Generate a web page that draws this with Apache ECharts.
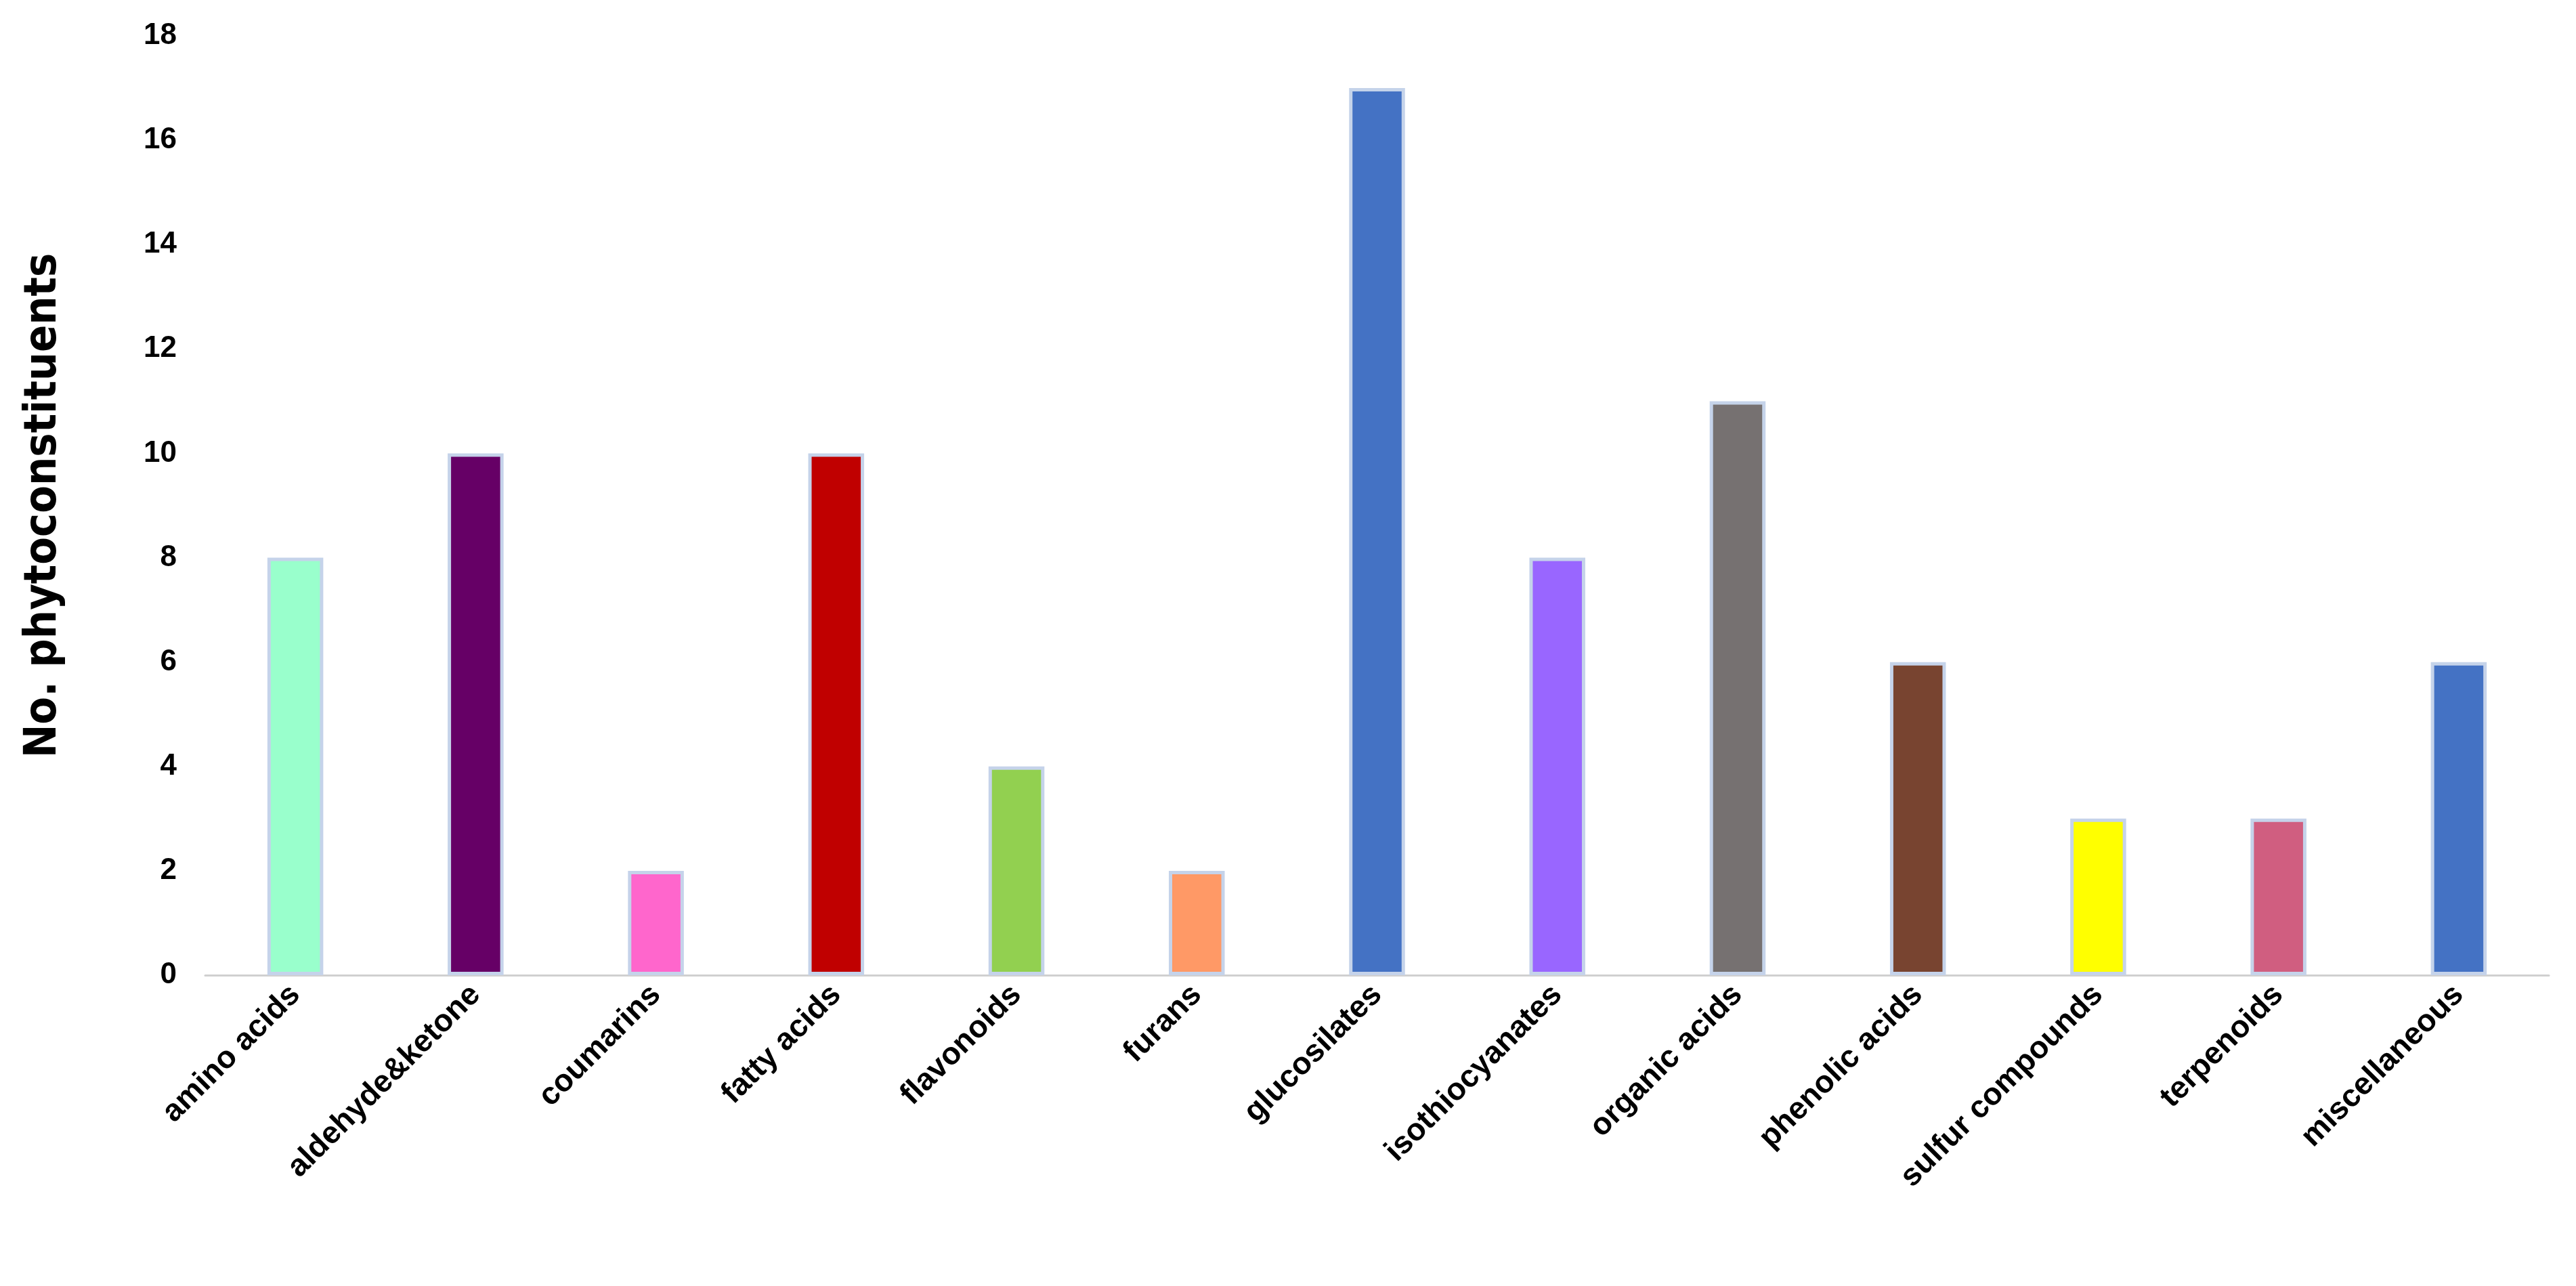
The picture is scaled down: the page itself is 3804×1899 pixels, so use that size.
<!DOCTYPE html>
<html>
<head>
<meta charset="utf-8">
<script src="https://cdn.jsdelivr.net/npm/echarts@6/dist/echarts.min.js"></script>
<style>html,body{margin:0;padding:0;background:#fff}#chart{width:3804px;height:1899px}</style>
</head>
<body>
<div id="chart"></div>
<script>
var categories = ['amino acids', 'aldehyde&ketone', 'coumarins', 'fatty acids', 'flavonoids', 'furans',
    'glucosilates', 'isothiocyanates', 'organic acids', 'phenolic acids', 'sulfur compounds', 'terpenoids', 'miscellaneous'];
var counts = [8, 10, 2, 10, 4, 2, 17, 8, 11, 6, 3, 3, 6];
var barColors = ['#99FFCC', '#660066', '#FF66CC', '#C00000', '#92D050', '#FF9966', '#4472C4',
    '#9966FF', '#767171', '#784430', '#FFFF00', '#D05E80', '#4472C4'];

var chart = echarts.init(document.getElementById('chart'));
chart.setOption({
    animation: false,
    grid: {left: 303, right: 40, top: 53, bottom: 459},
    xAxis: {
        type: 'category',
        data: categories,
        axisLine: {lineStyle: {color: '#d0d0d0', width: 3}},
        axisTick: {show: false},
        axisLabel: {
            rotate: 45, interval: 0, margin: 22,
            color: '#000', fontWeight: 'bold', fontSize: 46, fontFamily: 'Liberation Sans'
        }
    },
    yAxis: {
        type: 'value', min: 0, max: 18, interval: 2,
        name: 'No. phytoconstituents',
        nameLocation: 'middle', nameGap: 205,
        nameTextStyle: {fontSize: 66, fontWeight: 'bold', color: '#000', fontFamily: 'DejaVu Sans Condensed'},
        axisLine: {show: false},
        axisTick: {show: false},
        splitLine: {show: false},
        axisLabel: {color: '#000', fontWeight: 'bold', fontSize: 44, margin: 42, fontFamily: 'Liberation Sans'}
    },
    series: [{
        type: 'bar',
        data: counts.map(function (v, i) {
            return {value: v, itemStyle: {color: barColors[i]}};
        }),
        barWidth: '31%',
        itemStyle: {borderColor: '#c5d3ea', borderWidth: 5}
    }]
});
</script>
</body>
</html>
